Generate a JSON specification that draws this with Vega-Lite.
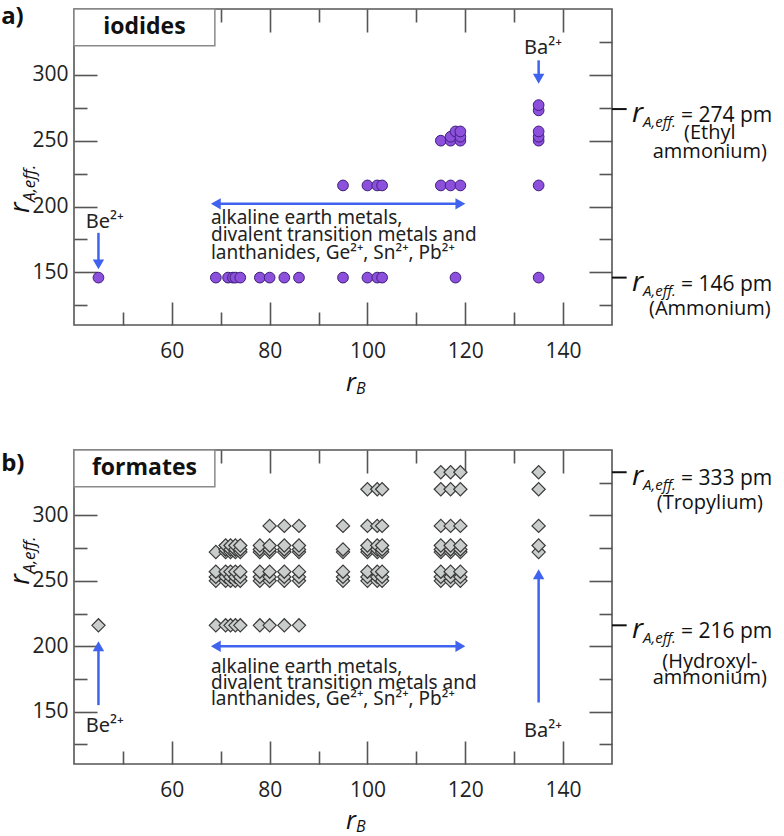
{
"$schema":"https://vega.github.io/schema/vega-lite/v6.json",
"padding":{"left":0,"top":4,"right":0,"bottom":0},
"background":"white",
"bounds":"flush",
"spacing":125,
"config":{"font":"Open Sans","view":{"stroke":"#555","strokeWidth":1.6},"axis":{"domain":false,"grid":false,"tickColor":"#555","tickWidth":1.6,"labelFont":"Open Sans","labelFontSize":21,"labelColor":"#222"}},
"datasets":{
"iodides":[{"x":45,"y":146},{"x":69,"y":146},{"x":71.5,"y":146},{"x":72.5,"y":146},{"x":73,"y":146},{"x":74,"y":146},{"x":78,"y":146},{"x":80,"y":146},{"x":83,"y":146},{"x":86,"y":146},{"x":95,"y":146},{"x":100,"y":146},{"x":102,"y":146},{"x":103,"y":146},{"x":118,"y":146},{"x":135,"y":146},
{"x":95,"y":216},{"x":100,"y":216},{"x":102,"y":216},{"x":103,"y":216},{"x":115,"y":216},{"x":117,"y":216},{"x":119,"y":216},{"x":135,"y":216},
{"x":115,"y":250},{"x":117,"y":250},{"x":117,"y":253},{"x":118,"y":257},{"x":119,"y":250},{"x":119,"y":253},{"x":119,"y":257},
{"x":135,"y":250},{"x":135,"y":253},{"x":135,"y":257},{"x":135,"y":273},{"x":135,"y":277}],
"formates":[{"x":45,"y":216},
{"x":69,"y":216},{"x":69,"y":250},{"x":69,"y":253},{"x":69,"y":257},{"x":69,"y":272},
{"x":71,"y":216},{"x":71,"y":250},{"x":71,"y":253},{"x":71,"y":257},{"x":71,"y":272},{"x":71,"y":274},{"x":71,"y":277},
{"x":72,"y":216},{"x":72,"y":250},{"x":72,"y":253},{"x":72,"y":257},{"x":72,"y":272},{"x":72,"y":274},{"x":72,"y":277},
{"x":73,"y":216},{"x":73,"y":250},{"x":73,"y":253},{"x":73,"y":257},{"x":73,"y":272},{"x":73,"y":274},{"x":73,"y":277},
{"x":74,"y":216},{"x":74,"y":250},{"x":74,"y":253},{"x":74,"y":257},{"x":74,"y":272},{"x":74,"y":274},{"x":74,"y":277},
{"x":78,"y":216},{"x":78,"y":250},{"x":78,"y":253},{"x":78,"y":257},{"x":78,"y":272},{"x":78,"y":274},{"x":78,"y":277},
{"x":80,"y":216},{"x":80,"y":250},{"x":80,"y":253},{"x":80,"y":257},{"x":80,"y":272},{"x":80,"y":274},{"x":80,"y":277},{"x":80,"y":292},
{"x":83,"y":216},{"x":83,"y":250},{"x":83,"y":253},{"x":83,"y":257},{"x":83,"y":272},{"x":83,"y":274},{"x":83,"y":277},{"x":83,"y":292},
{"x":86,"y":216},{"x":86,"y":250},{"x":86,"y":253},{"x":86,"y":257},{"x":86,"y":272},{"x":86,"y":274},{"x":86,"y":277},{"x":86,"y":292},
{"x":95,"y":250},{"x":95,"y":253},{"x":95,"y":257},{"x":95,"y":272},{"x":95,"y":274},{"x":95,"y":292},
{"x":100,"y":250},{"x":100,"y":253},{"x":100,"y":257},{"x":100,"y":272},{"x":100,"y":274},{"x":100,"y":277},{"x":100,"y":292},{"x":100,"y":320},
{"x":102,"y":250},{"x":102,"y":253},{"x":102,"y":257},{"x":102,"y":272},{"x":102,"y":274},{"x":102,"y":277},{"x":102,"y":292},{"x":102,"y":320},
{"x":103,"y":250},{"x":103,"y":253},{"x":103,"y":257},{"x":103,"y":272},{"x":103,"y":274},{"x":103,"y":277},{"x":103,"y":292},{"x":103,"y":320},
{"x":115,"y":250},{"x":115,"y":253},{"x":115,"y":257},{"x":115,"y":272},{"x":115,"y":274},{"x":115,"y":277},{"x":115,"y":292},{"x":115,"y":320},{"x":115,"y":333},
{"x":117,"y":250},{"x":117,"y":253},{"x":117,"y":257},{"x":117,"y":272},{"x":117,"y":274},{"x":117,"y":277},{"x":117,"y":292},{"x":117,"y":320},{"x":117,"y":333},
{"x":119,"y":250},{"x":119,"y":253},{"x":119,"y":257},{"x":119,"y":272},{"x":119,"y":274},{"x":119,"y":277},{"x":119,"y":292},{"x":119,"y":320},{"x":119,"y":333},
{"x":135,"y":272},{"x":135,"y":277},{"x":135,"y":292},{"x":135,"y":320},{"x":135,"y":333}],
"boxes":[{"panel":"a","x":40,"x2":68.8,"y":322,"y2":350,"lx":54.4,"ly":336,"name":"iodides"},{"panel":"b","x":40,"x2":68.8,"y":322,"y2":350,"lx":54.4,"ly":336,"name":"formates"}],
"arrows":[{"panel":"a","x":69,"x2":119,"y":202,"y2":202},{"panel":"a","x":45,"x2":45,"y":180,"y2":157},{"panel":"a","x":135,"x2":135,"y":311,"y2":298},
{"panel":"b","x":69,"x2":119,"y":200,"y2":200},{"panel":"b","x":45,"x2":45,"y":155,"y2":199},{"panel":"b","x":135,"x2":135,"y":157,"y2":254}],
"heads":[{"panel":"a","x":69,"y":202,"dir":"left"},{"panel":"a","x":119,"y":202,"dir":"right"},{"panel":"a","x":45,"y":156,"dir":"down"},{"panel":"a","x":135,"y":297,"dir":"down"},
{"panel":"b","x":69,"y":200,"dir":"left"},{"panel":"b","x":119,"y":200,"dir":"right"},{"panel":"b","x":45,"y":200,"dir":"up"},{"panel":"b","x":135,"y":255,"dir":"up"}],
"notes":[{"panel":"a","kind":"ion","x":42.4,"y":188,"text":"Be²⁺"},{"panel":"a","kind":"ion","x":132,"y":320.6,"text":"Ba²⁺"},{"panel":"a","kind":"block","x":68,"y":191,"text":"alkaline earth metals,"},{"panel":"a","kind":"block","x":68,"y":178,"text":"divalent transition metals and"},{"panel":"a","kind":"block","x":68,"y":165,"text":"lanthanides, Ge²⁺, Sn²⁺, Pb²⁺"},
{"panel":"b","kind":"ion","x":42.4,"y":139,"text":"Be²⁺"},{"panel":"b","kind":"ion","x":132,"y":135,"text":"Ba²⁺"},{"panel":"b","kind":"block","x":68,"y":184.5,"text":"alkaline earth metals,"},{"panel":"b","kind":"block","x":68,"y":172,"text":"divalent transition metals and"},{"panel":"b","kind":"block","x":68,"y":159.3,"text":"lanthanides, Ge²⁺, Sn²⁺, Pb²⁺"}],
"ann":[{"panel":"a","y":274,"val":"= 274 pm"},{"panel":"a","y":146,"val":"= 146 pm"},{"panel":"b","y":333,"val":"= 333 pm"},{"panel":"b","y":216,"val":"= 216 pm"}],
"annNote":[{"panel":"a","y":255.6,"text":"(Ethyl"},{"panel":"a","y":241.2,"text":"ammonium)"},{"panel":"a","y":121.8,"text":"(Ammonium)"},
{"panel":"b","y":309.5,"text":"(Tropylium)"},{"panel":"b","y":188,"text":"(Hydroxyl-"},{"panel":"b","y":175.9,"text":"ammonium)"}],
"letters":[{"panel":"a","x":25.1,"y":344,"text":"a)"},{"panel":"b","x":25.1,"y":339.6,"text":"b)"}],
"xtitle":[{"panel":"a","x":95.6,"y":66},{"panel":"b","x":95.6,"y":66.7}],
"ytitle":[{"panel":"a","x":30.8,"y":195,"xs":32.0,"ys":203.5},{"panel":"b","x":30.8,"y":247,"xs":32.0,"ys":255.5}]
},
"vconcat":[
{"width":538,"height":316,
"resolve":{"axis":{"x":"independent","y":"independent"}},
"layer":[
{"data":{"name":"boxes"},"transform":[{"filter":"datum.panel==='a'"}],"mark":{"type":"rect","fill":"white","stroke":"#8a8a8a","strokeWidth":1.5},
"encoding":{"x":{"field":"x","type":"quantitative","scale":{"domain":[40,150],"nice":false,"zero":false},"axis":null},"x2":{"field":"x2"},"y":{"field":"y","type":"quantitative","scale":{"domain":[110,350],"nice":false,"zero":false},"axis":null},"y2":{"field":"y2"}}},
{"data":{"name":"boxes"},"transform":[{"filter":"datum.panel==='a'"}],"mark":{"type":"text","fontWeight":"bold","fontSize":23,"color":"#111","align":"center","baseline":"middle"},
"encoding":{"x":{"field":"lx","type":"quantitative","scale":{"domain":[40,150],"nice":false,"zero":false},"axis":null},"y":{"field":"ly","type":"quantitative","scale":{"domain":[110,350],"nice":false,"zero":false},"axis":null},"text":{"field":"name"}}},
{"data":{"name":"arrows"},"transform":[{"filter":"datum.panel==='a'"}],"mark":{"type":"rule","color":"#3f63ee","strokeWidth":2.5},
"encoding":{"x":{"field":"x","type":"quantitative","scale":{"domain":[40,150],"nice":false,"zero":false},"axis":{"orient":"top","values":[50,60,70,80,90,100,110,120,130,140],"tickSize":{"condition":{"test":"datum.value % 20 === 0","value":-23},"value":-13},"labels":false,"title":null}},"x2":{"field":"x2"},
"y":{"field":"y","type":"quantitative","scale":{"domain":[110,350],"nice":false,"zero":false},"axis":{"orient":"right","values":[125,150,175,200,225,250,275,300,325],"tickSize":{"condition":{"test":"datum.value % 50 === 0","value":-23},"value":-13},"labels":false,"title":null}},"y2":{"field":"y2"}}},
{"data":{"name":"heads"},"transform":[{"filter":"datum.panel==='a'"}],"mark":{"type":"point","filled":true,"size":130,"color":"#3f63ee","opacity":1},
"encoding":{"x":{"field":"x","type":"quantitative","scale":{"domain":[40,150],"nice":false,"zero":false},"axis":null},"y":{"field":"y","type":"quantitative","scale":{"domain":[110,350],"nice":false,"zero":false},"axis":null},"shape":{"field":"dir","type":"nominal","scale":{"domain":["left","right","up","down"],"range":["triangle-left","triangle-right","triangle-up","triangle-down"]},"legend":null}}},
{"data":{"name":"iodides"},"mark":{"type":"point","shape":"circle","filled":true,"size":115,"fill":"#8c50dc","stroke":"#3d1f7a","strokeWidth":1,"opacity":1},
"encoding":{"x":{"field":"x","type":"quantitative","scale":{"domain":[40,150],"nice":false,"zero":false},"axis":{"orient":"bottom","values":[50,60,70,80,90,100,110,120,130,140],"tickSize":{"condition":{"test":"datum.value % 20 === 0","value":-23},"value":-13},"labelExpr":"datum.value % 20 === 0 ? datum.label : ''","labelPadding":38,"title":null}},
"y":{"field":"y","type":"quantitative","scale":{"domain":[110,350],"nice":false,"zero":false},"axis":{"orient":"left","values":[125,150,175,200,225,250,275,300,325],"tickSize":{"condition":{"test":"datum.value % 50 === 0","value":-23},"value":-13},"labelExpr":"datum.value % 50 === 0 ? datum.label : ''","labelPadding":29,"title":null}}}},
{"data":{"name":"notes"},"transform":[{"filter":"datum.panel==='a' && datum.kind==='ion'"}],"mark":{"type":"text","font":"Noto Sans","fontSize":20,"color":"#222","align":"left","baseline":"middle"},
"encoding":{"x":{"field":"x","type":"quantitative","scale":{"domain":[40,150],"nice":false,"zero":false},"axis":null},"y":{"field":"y","type":"quantitative","scale":{"domain":[110,350],"nice":false,"zero":false},"axis":null},"text":{"field":"text"}}},
{"data":{"name":"notes"},"transform":[{"filter":"datum.panel==='a' && datum.kind==='block'"}],"mark":{"type":"text","font":"Noto Sans","fontSize":19,"color":"#222","align":"left","baseline":"middle"},
"encoding":{"x":{"field":"x","type":"quantitative","scale":{"domain":[40,150],"nice":false,"zero":false},"axis":null},"y":{"field":"y","type":"quantitative","scale":{"domain":[110,350],"nice":false,"zero":false},"axis":null},"text":{"field":"text"}}},
{"data":{"name":"ann"},"transform":[{"filter":"datum.panel==='a'"}],"mark":{"type":"rule","color":"#111","strokeWidth":2},
"encoding":{"x":{"datum":150,"type":"quantitative","scale":{"domain":[40,150],"nice":false,"zero":false},"axis":null},"x2":{"datum":153},"y":{"field":"y","type":"quantitative","scale":{"domain":[110,350],"nice":false,"zero":false},"axis":null}}},
{"data":{"name":"ann"},"transform":[{"filter":"datum.panel==='a'"}],"mark":{"type":"text","text":"r","fontStyle":"italic","fontSize":28,"color":"#111","align":"left","baseline":"alphabetic","dy":13},
"encoding":{"x":{"datum":154.1,"type":"quantitative","scale":{"domain":[40,150],"nice":false,"zero":false},"axis":null},"y":{"field":"y","type":"quantitative","scale":{"domain":[110,350],"nice":false,"zero":false},"axis":null}}},
{"data":{"name":"ann"},"transform":[{"filter":"datum.panel==='a'"}],"mark":{"type":"text","text":"A,eff.","fontStyle":"italic","fontSize":15,"color":"#111","align":"left","baseline":"alphabetic","dx":11,"dy":18},
"encoding":{"x":{"datum":154.1,"type":"quantitative","scale":{"domain":[40,150],"nice":false,"zero":false},"axis":null},"y":{"field":"y","type":"quantitative","scale":{"domain":[110,350],"nice":false,"zero":false},"axis":null}}},
{"data":{"name":"ann"},"transform":[{"filter":"datum.panel==='a'"}],"mark":{"type":"text","fontSize":21,"color":"#111","align":"left","baseline":"alphabetic","dx":49,"dy":13},
"encoding":{"x":{"datum":154.1,"type":"quantitative","scale":{"domain":[40,150],"nice":false,"zero":false},"axis":null},"y":{"field":"y","type":"quantitative","scale":{"domain":[110,350],"nice":false,"zero":false},"axis":null},"text":{"field":"val"}}},
{"data":{"name":"annNote"},"transform":[{"filter":"datum.panel==='a'"}],"mark":{"type":"text","fontSize":20,"color":"#111","align":"center","baseline":"middle"},
"encoding":{"x":{"datum":170,"type":"quantitative","scale":{"domain":[40,150],"nice":false,"zero":false},"axis":null},"y":{"field":"y","type":"quantitative","scale":{"domain":[110,350],"nice":false,"zero":false},"axis":null},"text":{"field":"text"}}},
{"data":{"name":"letters"},"transform":[{"filter":"datum.panel==='a'"}],"mark":{"type":"text","fontSize":24,"fontWeight":"bold","color":"#111","align":"left","baseline":"middle"},
"encoding":{"x":{"field":"x","type":"quantitative","scale":{"domain":[40,150],"nice":false,"zero":false},"axis":null},"y":{"field":"y","type":"quantitative","scale":{"domain":[110,350],"nice":false,"zero":false},"axis":null},"text":{"field":"text"}}},
{"data":{"name":"xtitle"},"transform":[{"filter":"datum.panel==='a'"}],"mark":{"type":"text","text":"r","fontStyle":"italic","fontSize":25,"color":"#111","align":"left","baseline":"middle"},
"encoding":{"x":{"field":"x","type":"quantitative","scale":{"domain":[40,150],"nice":false,"zero":false},"axis":null},"y":{"field":"y","type":"quantitative","scale":{"domain":[110,350],"nice":false,"zero":false},"axis":null}}},
{"data":{"name":"xtitle"},"transform":[{"filter":"datum.panel==='a'"}],"mark":{"type":"text","text":"B","fontStyle":"italic","fontSize":16,"color":"#111","align":"left","baseline":"middle","dx":10,"dy":6},
"encoding":{"x":{"field":"x","type":"quantitative","scale":{"domain":[40,150],"nice":false,"zero":false},"axis":null},"y":{"field":"y","type":"quantitative","scale":{"domain":[110,350],"nice":false,"zero":false},"axis":null}}},
{"data":{"name":"ytitle"},"transform":[{"filter":"datum.panel==='a'"}],"mark":{"type":"text","text":"r","fontStyle":"italic","fontSize":27,"color":"#111","align":"left","baseline":"alphabetic","angle":270},
"encoding":{"x":{"field":"x","type":"quantitative","scale":{"domain":[40,150],"nice":false,"zero":false},"axis":null},"y":{"field":"y","type":"quantitative","scale":{"domain":[110,350],"nice":false,"zero":false},"axis":null}}},
{"data":{"name":"ytitle"},"transform":[{"filter":"datum.panel==='a'"}],"mark":{"type":"text","text":"A,eff.","fontStyle":"italic","fontSize":17,"color":"#111","align":"left","baseline":"alphabetic","angle":270},
"encoding":{"x":{"field":"xs","type":"quantitative","scale":{"domain":[40,150],"nice":false,"zero":false},"axis":null},"y":{"field":"ys","type":"quantitative","scale":{"domain":[110,350],"nice":false,"zero":false},"axis":null}}}
]},
{"width":538,"height":314,
"resolve":{"axis":{"x":"independent","y":"independent"}},
"layer":[
{"data":{"name":"boxes"},"transform":[{"filter":"datum.panel==='b'"}],"mark":{"type":"rect","fill":"white","stroke":"#8a8a8a","strokeWidth":1.5},
"encoding":{"x":{"field":"x","type":"quantitative","scale":{"domain":[40,150],"nice":false,"zero":false},"axis":null},"x2":{"field":"x2"},"y":{"field":"y","type":"quantitative","scale":{"domain":[110,350],"nice":false,"zero":false},"axis":null},"y2":{"field":"y2"}}},
{"data":{"name":"boxes"},"transform":[{"filter":"datum.panel==='b'"}],"mark":{"type":"text","fontWeight":"bold","fontSize":23,"color":"#111","align":"center","baseline":"middle"},
"encoding":{"x":{"field":"lx","type":"quantitative","scale":{"domain":[40,150],"nice":false,"zero":false},"axis":null},"y":{"field":"ly","type":"quantitative","scale":{"domain":[110,350],"nice":false,"zero":false},"axis":null},"text":{"field":"name"}}},
{"data":{"name":"arrows"},"transform":[{"filter":"datum.panel==='b'"}],"mark":{"type":"rule","color":"#3f63ee","strokeWidth":2.5},
"encoding":{"x":{"field":"x","type":"quantitative","scale":{"domain":[40,150],"nice":false,"zero":false},"axis":{"orient":"top","values":[50,60,70,80,90,100,110,120,130,140],"tickSize":{"condition":{"test":"datum.value % 20 === 0","value":-23},"value":-13},"labels":false,"title":null}},"x2":{"field":"x2"},
"y":{"field":"y","type":"quantitative","scale":{"domain":[110,350],"nice":false,"zero":false},"axis":{"orient":"right","values":[125,150,175,200,225,250,275,300,325],"tickSize":{"condition":{"test":"datum.value % 50 === 0","value":-23},"value":-13},"labels":false,"title":null}},"y2":{"field":"y2"}}},
{"data":{"name":"heads"},"transform":[{"filter":"datum.panel==='b'"}],"mark":{"type":"point","filled":true,"size":130,"color":"#3f63ee","opacity":1},
"encoding":{"x":{"field":"x","type":"quantitative","scale":{"domain":[40,150],"nice":false,"zero":false},"axis":null},"y":{"field":"y","type":"quantitative","scale":{"domain":[110,350],"nice":false,"zero":false},"axis":null},"shape":{"field":"dir","type":"nominal","scale":{"domain":["left","right","up","down"],"range":["triangle-left","triangle-right","triangle-up","triangle-down"]},"legend":null}}},
{"data":{"name":"formates"},"mark":{"type":"point","shape":"diamond","filled":true,"size":175,"fill":"#c9cdcb","stroke":"#3a3a3a","strokeWidth":1.2,"opacity":1},
"encoding":{"x":{"field":"x","type":"quantitative","scale":{"domain":[40,150],"nice":false,"zero":false},"axis":{"orient":"bottom","values":[50,60,70,80,90,100,110,120,130,140],"tickSize":{"condition":{"test":"datum.value % 20 === 0","value":-23},"value":-13},"labelExpr":"datum.value % 20 === 0 ? datum.label : ''","labelPadding":38,"title":null}},
"y":{"field":"y","type":"quantitative","scale":{"domain":[110,350],"nice":false,"zero":false},"axis":{"orient":"left","values":[125,150,175,200,225,250,275,300,325],"tickSize":{"condition":{"test":"datum.value % 50 === 0","value":-23},"value":-13},"labelExpr":"datum.value % 50 === 0 ? datum.label : ''","labelPadding":29,"title":null}}}},
{"data":{"name":"notes"},"transform":[{"filter":"datum.panel==='b' && datum.kind==='ion'"}],"mark":{"type":"text","font":"Noto Sans","fontSize":20,"color":"#222","align":"left","baseline":"middle"},
"encoding":{"x":{"field":"x","type":"quantitative","scale":{"domain":[40,150],"nice":false,"zero":false},"axis":null},"y":{"field":"y","type":"quantitative","scale":{"domain":[110,350],"nice":false,"zero":false},"axis":null},"text":{"field":"text"}}},
{"data":{"name":"notes"},"transform":[{"filter":"datum.panel==='b' && datum.kind==='block'"}],"mark":{"type":"text","font":"Noto Sans","fontSize":19,"color":"#222","align":"left","baseline":"middle"},
"encoding":{"x":{"field":"x","type":"quantitative","scale":{"domain":[40,150],"nice":false,"zero":false},"axis":null},"y":{"field":"y","type":"quantitative","scale":{"domain":[110,350],"nice":false,"zero":false},"axis":null},"text":{"field":"text"}}},
{"data":{"name":"ann"},"transform":[{"filter":"datum.panel==='b'"}],"mark":{"type":"rule","color":"#111","strokeWidth":2},
"encoding":{"x":{"datum":150,"type":"quantitative","scale":{"domain":[40,150],"nice":false,"zero":false},"axis":null},"x2":{"datum":153},"y":{"field":"y","type":"quantitative","scale":{"domain":[110,350],"nice":false,"zero":false},"axis":null}}},
{"data":{"name":"ann"},"transform":[{"filter":"datum.panel==='b'"}],"mark":{"type":"text","text":"r","fontStyle":"italic","fontSize":28,"color":"#111","align":"left","baseline":"alphabetic","dy":13},
"encoding":{"x":{"datum":154.1,"type":"quantitative","scale":{"domain":[40,150],"nice":false,"zero":false},"axis":null},"y":{"field":"y","type":"quantitative","scale":{"domain":[110,350],"nice":false,"zero":false},"axis":null}}},
{"data":{"name":"ann"},"transform":[{"filter":"datum.panel==='b'"}],"mark":{"type":"text","text":"A,eff.","fontStyle":"italic","fontSize":15,"color":"#111","align":"left","baseline":"alphabetic","dx":11,"dy":18},
"encoding":{"x":{"datum":154.1,"type":"quantitative","scale":{"domain":[40,150],"nice":false,"zero":false},"axis":null},"y":{"field":"y","type":"quantitative","scale":{"domain":[110,350],"nice":false,"zero":false},"axis":null}}},
{"data":{"name":"ann"},"transform":[{"filter":"datum.panel==='b'"}],"mark":{"type":"text","fontSize":21,"color":"#111","align":"left","baseline":"alphabetic","dx":49,"dy":13},
"encoding":{"x":{"datum":154.1,"type":"quantitative","scale":{"domain":[40,150],"nice":false,"zero":false},"axis":null},"y":{"field":"y","type":"quantitative","scale":{"domain":[110,350],"nice":false,"zero":false},"axis":null},"text":{"field":"val"}}},
{"data":{"name":"annNote"},"transform":[{"filter":"datum.panel==='b'"}],"mark":{"type":"text","fontSize":20,"color":"#111","align":"center","baseline":"middle"},
"encoding":{"x":{"datum":170,"type":"quantitative","scale":{"domain":[40,150],"nice":false,"zero":false},"axis":null},"y":{"field":"y","type":"quantitative","scale":{"domain":[110,350],"nice":false,"zero":false},"axis":null},"text":{"field":"text"}}},
{"data":{"name":"letters"},"transform":[{"filter":"datum.panel==='b'"}],"mark":{"type":"text","fontSize":24,"fontWeight":"bold","color":"#111","align":"left","baseline":"middle"},
"encoding":{"x":{"field":"x","type":"quantitative","scale":{"domain":[40,150],"nice":false,"zero":false},"axis":null},"y":{"field":"y","type":"quantitative","scale":{"domain":[110,350],"nice":false,"zero":false},"axis":null},"text":{"field":"text"}}},
{"data":{"name":"xtitle"},"transform":[{"filter":"datum.panel==='b'"}],"mark":{"type":"text","text":"r","fontStyle":"italic","fontSize":25,"color":"#111","align":"left","baseline":"middle"},
"encoding":{"x":{"field":"x","type":"quantitative","scale":{"domain":[40,150],"nice":false,"zero":false},"axis":null},"y":{"field":"y","type":"quantitative","scale":{"domain":[110,350],"nice":false,"zero":false},"axis":null}}},
{"data":{"name":"xtitle"},"transform":[{"filter":"datum.panel==='b'"}],"mark":{"type":"text","text":"B","fontStyle":"italic","fontSize":16,"color":"#111","align":"left","baseline":"middle","dx":10,"dy":6},
"encoding":{"x":{"field":"x","type":"quantitative","scale":{"domain":[40,150],"nice":false,"zero":false},"axis":null},"y":{"field":"y","type":"quantitative","scale":{"domain":[110,350],"nice":false,"zero":false},"axis":null}}},
{"data":{"name":"ytitle"},"transform":[{"filter":"datum.panel==='b'"}],"mark":{"type":"text","text":"r","fontStyle":"italic","fontSize":27,"color":"#111","align":"left","baseline":"alphabetic","angle":270},
"encoding":{"x":{"field":"x","type":"quantitative","scale":{"domain":[40,150],"nice":false,"zero":false},"axis":null},"y":{"field":"y","type":"quantitative","scale":{"domain":[110,350],"nice":false,"zero":false},"axis":null}}},
{"data":{"name":"ytitle"},"transform":[{"filter":"datum.panel==='b'"}],"mark":{"type":"text","text":"A,eff.","fontStyle":"italic","fontSize":17,"color":"#111","align":"left","baseline":"alphabetic","angle":270},
"encoding":{"x":{"field":"xs","type":"quantitative","scale":{"domain":[40,150],"nice":false,"zero":false},"axis":null},"y":{"field":"ys","type":"quantitative","scale":{"domain":[110,350],"nice":false,"zero":false},"axis":null}}}
]}
]
}
